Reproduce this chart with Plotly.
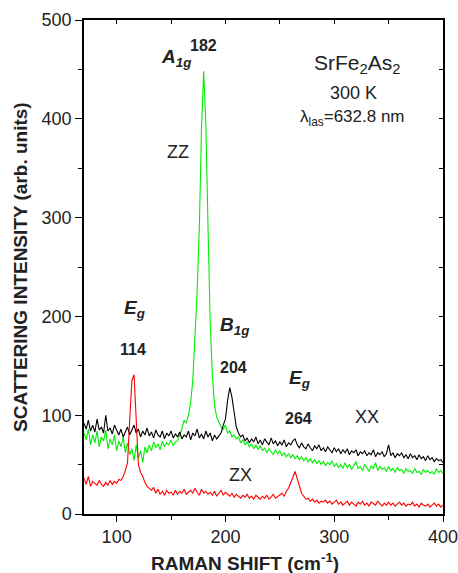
import plotly.graph_objects as go

# Raman shift grid (cm^-1)
shift = list(range(70, 401, 2))

# XX polarization (black)
xx = [92, 86, 95, 84, 90, 83, 96, 85, 88, 82,
      100, 84, 87, 81, 90, 84, 80, 86, 78, 83,
      88, 80, 85, 90, 82, 86, 78, 84, 80, 87,
      79, 83, 77, 85, 80, 78, 84, 76, 82, 79,
      84, 77, 81, 78, 83, 76, 80, 78, 84, 75,
      82, 79, 86, 77, 81, 76, 84, 78, 82, 74,
      80, 76, 79, 82, 90, 96, 115, 128, 118, 100,
      88, 82, 78, 80, 74, 77, 72, 76, 73, 78,
      71, 75, 70, 76, 73, 70, 77, 71, 74, 69,
      73, 70, 75, 68, 72, 70, 74, 76, 70, 67,
      72, 68, 66, 71, 67, 64, 69, 66, 70, 64,
      67, 63, 68, 65, 62, 67, 63, 66, 61, 65,
      62, 66, 60, 64, 62, 65, 59, 63, 61, 64,
      59, 62, 60, 65, 58, 62, 60, 63, 58, 61,
      70, 59, 62, 57, 61, 59, 62, 57, 60, 56,
      61, 57, 59, 55, 60, 56, 58, 54, 59, 55,
      57, 53, 56, 54, 55, 52]

# ZZ polarization (green)
zz = [82, 75, 86, 70, 80, 72, 84, 68, 78, 74,
      85, 66, 76, 70, 80, 64, 74, 68, 78, 62,
      72, 60, 66, 54, 70, 56, 64, 52, 68, 62,
      70, 64, 73, 67, 71, 65, 74, 68, 72, 70,
      75, 69, 73, 74, 80, 86, 95, 92, 100, 112,
      135, 175, 225, 290, 390, 448, 395, 290, 195, 140,
      110, 98, 92, 88, 86, 90, 82, 84, 78, 80,
      76, 78, 72, 75, 70, 73, 68, 71, 66, 70,
      65, 69, 64, 67, 62, 66, 63, 60, 65, 61,
      64, 59, 62, 58, 61, 57, 60, 56, 59, 55,
      58, 54, 57, 53, 56, 52, 55, 51, 54, 50,
      53, 49, 52, 50, 54, 48, 51, 47, 50, 46,
      52, 47, 50, 45, 49, 53, 46, 48, 44, 50,
      47, 43, 49, 46, 52, 44, 48, 45, 47, 43,
      48, 44, 46, 42, 47, 44, 45, 41, 46, 43,
      44, 41, 46, 42, 43, 40, 45, 42, 44, 41,
      43, 40, 46, 42, 44, 41]

# ZX polarization (red)
zx = [36, 30, 38, 28, 33, 31, 29, 34, 30, 28,
      32, 29, 34, 30, 33, 31, 35, 34, 38, 44,
      52, 95, 135, 141, 100, 50, 42, 38, 32, 28,
      26, 24, 27, 21, 25, 20, 23, 19, 24, 21,
      22, 19, 24, 20, 23, 21, 25, 20, 22, 24,
      21, 26, 22, 19, 25, 21, 23, 20, 22, 19,
      23, 18, 21, 24, 19, 22, 20, 18, 21, 17,
      20, 18, 16, 19, 17, 20, 16, 18, 15, 19,
      17, 15, 18, 16, 19, 15, 17, 20, 16, 18,
      19, 21, 18, 23, 26, 31, 37, 43, 35, 27,
      21, 18, 15, 16, 13, 15, 12, 14, 11, 13,
      12, 14, 11, 13, 10, 12, 14, 10, 12, 9,
      11, 13, 9, 12, 10, 8, 12, 10, 13, 9,
      11, 8, 12, 10, 9, 13, 10, 8, 11, 9,
      12, 9, 11, 8, 10, 12, 9, 11, 8, 10,
      9, 12, 8, 10, 7, 11, 9, 8, 10, 7,
      9, 11, 8, 10, 7, 9]

x_ticks = [100, 200, 300, 400]
y_ticks = [0, 100, 200, 300, 400, 500]

FONT = "Liberation Sans, Arial, sans-serif"
fig = go.Figure()
fig.add_trace(go.Scatter(x=shift, y=zz, mode="lines", line=dict(color="#00ee00", width=1.1), showlegend=False))
fig.add_trace(go.Scatter(x=shift, y=xx, mode="lines", line=dict(color="#000000", width=1.1), showlegend=False))
fig.add_trace(go.Scatter(x=shift, y=zx, mode="lines", line=dict(color="#ff0000", width=1.1), showlegend=False))
# helper invisible trace for top/right axes
fig.add_trace(go.Scatter(x=[70], y=[0], xaxis="x2", yaxis="y2", mode="markers",
                         marker=dict(opacity=0), showlegend=False, hoverinfo="skip"))

axis_common = dict(showgrid=False, zeroline=False, showline=True, linecolor="black", linewidth=1.5,
                   tickcolor="black", tickwidth=1.2, ticklabeloverflow="allow", automargin=False,
                   tickfont=dict(family=FONT, size=18, color="#222"))

fig.update_layout(
    width=458, height=573,
    margin=dict(l=84, r=15, t=20, b=59, autoexpand=False),
    paper_bgcolor="white", plot_bgcolor="white",
    font=dict(family=FONT, color="#222"),
    xaxis=dict(range=[70, 400], tickvals=x_ticks, ticks="outside", ticklen=6,
               minor=dict(tickvals=[150, 250, 350], ticks="outside", ticklen=4, tickcolor="black"),
               **axis_common),
    yaxis=dict(range=[0, 500], tickvals=y_ticks, ticks="outside", ticklen=7,
               minor=dict(tickvals=[50, 150, 250, 350, 450], ticks="outside", ticklen=4, tickcolor="black"),
               **axis_common),
    xaxis2=dict(range=[70, 400], overlaying="x", side="top", showgrid=False, zeroline=False,
                showline=True, linecolor="black", linewidth=1.5, ticks="inside", ticklen=4,
                automargin=False,
                tickcolor="black", tickvals=[100, 150, 200, 250, 300, 350, 400], showticklabels=False),
    yaxis2=dict(range=[0, 500], overlaying="y", side="right", showgrid=False, zeroline=False,
                showline=True, linecolor="black", linewidth=1.5, ticks="inside", ticklen=4,
                automargin=False,
                tickcolor="black", tickvals=[50, 100, 150, 200, 250, 300, 350, 400, 450], showticklabels=False),
)

def ann(x, y, text, size, **kw):
    fig.add_annotation(x=x, y=y, text=text, showarrow=False,
                       font=dict(family=FONT, size=size, color="#222"),
                       xanchor="center", yanchor="middle", **kw)

ann(154.6, 462, "<b><i>A</i></b><sub><b><i>1g</i></b></sub>", 19)
ann(179.5, 474, "<b>182</b>", 16)
ann(156.5, 366, "ZZ", 18)
ann(321, 455, "SrFe<sub>2</sub>As<sub>2</sub>", 21)
ann(317.5, 426, "300 K", 18)
ann(316.5, 401, "λ<sub>las</sub>=632.8 nm", 17)
ann(116, 208, "<b><i>E</i></b><sub><b><i>g</i></b></sub>", 19)
ann(115, 166, "<b>114</b>", 16)
ann(208, 190, "<b><i>B</i></b><sub><b><i>1g</i></b></sub>", 19)
ann(207, 148, "<b>204</b>", 16)
ann(267.8, 137, "<b><i>E</i></b><sub><b><i>g</i></b></sub>", 19)
ann(266.9, 97, "<b>264</b>", 16)
ann(330.3, 98, "XX", 18)
ann(213.5, 39.5, "ZX", 18)

# axis titles
fig.add_annotation(xref="paper", yref="paper", x=(20 - 84) / 359, y=(514 - 267) / 494,
                   text="<b>SCATTERING INTENSITY (arb. units)</b>", textangle=-90, showarrow=False,
                   font=dict(family=FONT, size=19, color="#222"), xanchor="center", yanchor="middle")
fig.add_annotation(xref="paper", yref="paper", x=(245 - 84) / 359, y=(514 - 562) / 494,
                   text="<b>RAMAN SHIFT (cm<sup>-1</sup>)</b>", showarrow=False,
                   font=dict(family=FONT, size=19, color="#222"), xanchor="center", yanchor="middle")

fig.write_html("out.html", config={"displayModeBar": False},
               post_script="document.body.style.margin='0';document.body.style.padding='0';")
